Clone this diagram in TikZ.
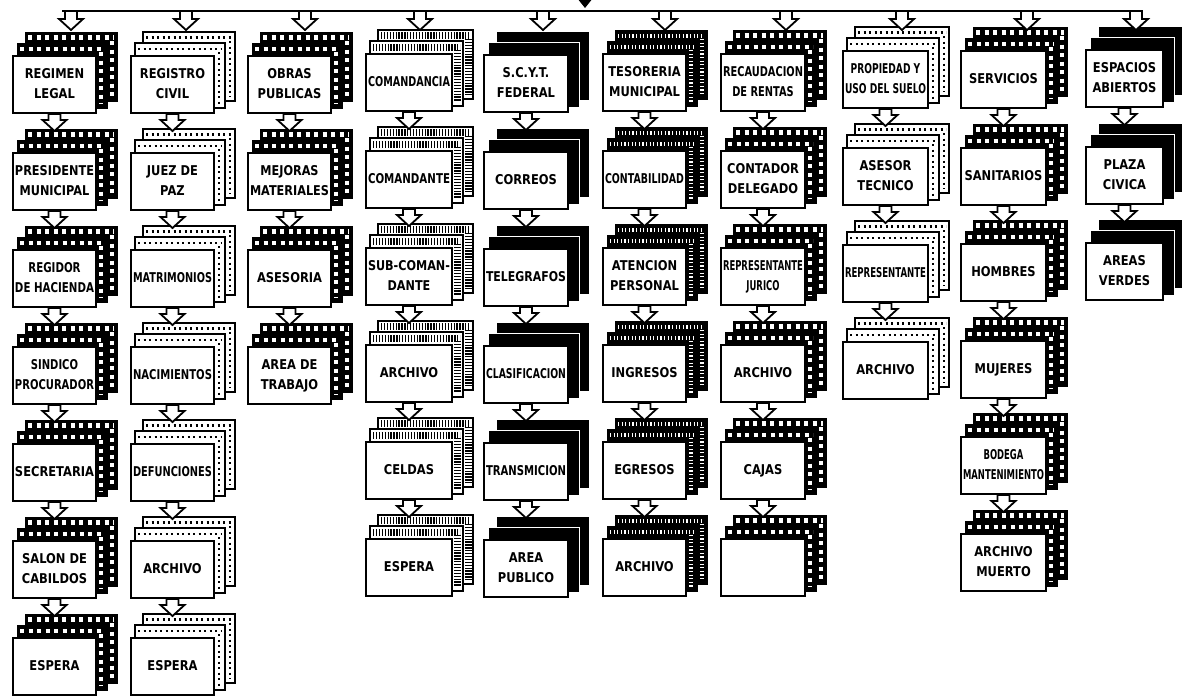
\documentclass[tikz,border=0pt]{standalone}
\usepackage{fontspec}
\usepackage{graphicx}
\newfontfamily\cardfont{DejaVu Sans}[FakeStretch=0.85]
\newsavebox\lblbox
\newcommand\lbl[2]{\sbox\lblbox{\def\arraystretch{1.25}\begin{tabular}{@{}c@{}}#2\end{tabular}}%
  \ifdim\wd\lblbox>#1pt\resizebox{#1pt}{\height}{\usebox\lblbox}\else\usebox\lblbox\fi}
\tikzset{
  card/.style={draw=black, fill=white, line width=2pt, anchor=north west,
    minimum height=57pt, inner sep=0pt,
    font=\cardfont\bfseries\fontsize{13.5}{16}\selectfont},
  film layer/.style={fill=black, draw=black, line width=1pt},
  film perf/.style={draw=white, line width=4.5pt, dash pattern=on 4pt off 4.5pt},
  dots layer/.style={fill=white, draw=black, line width=1.6pt},
  dots perf/.style={draw=black, line width=2.4pt, dash pattern=on 2pt off 3.5pt},
  comb layer/.style={fill=white, draw=black, line width=1.6pt},
  comb perf/.style={draw=black, line width=7pt, dash pattern=on 1.3pt off 1.6pt},
  solid layer/.style={fill=black, draw=white, line width=0.8pt},
  solid perf/.style={},
  hatch layer/.style={fill=black, draw=black, line width=1pt},
  hatch perf/.style={draw=white, line width=4pt, dash pattern=on 1.2pt off 2.4pt},
  blk/.style={draw=black, fill=white, line width=1.8pt, line join=miter},
  bar/.style={draw=black, line width=2.5pt},
}
\newcommand\mkcard[6]{%
  \begin{scope}[shift={(#3,#4)}]
    \path[#2 layer] (13,-23) rectangle (#5+22,46);
    \path[#2 perf] (16,-17.5) -- (#5+19,-17.5) (#5+17,-14) -- (#5+17,42);
    \path[#2 layer] (5,-12) rectangle (#5+12,53);
    \path[#2 perf] (8,-6) -- (#5+9,-6) (#5+6,-3) -- (#5+6,49);
  \end{scope}
  \node[card, minimum width=#5] (#1) at (#3,#4) {\lbl{\the\numexpr#5-4\relax}{#6}};
}
\newcommand\harrow[1]{\draw[blk] (#1) ++(-6,0) -- ++(12,0) -- ++(0,6) -- ++(6,0) -- ++(-12,11) -- ++(-12,-11) -- ++(6,0) -- cycle;}
\newcommand\tarrow[1]{\draw[blk] (#1) ++(-6,0) -- ++(12,0) -- ++(0,8) -- ++(6,0) -- ++(-12,11) -- ++(-12,-11) -- ++(6,0) -- cycle;}
\begin{document}
\begin{tikzpicture}[x=1pt,y=-1pt]
\fill[white] (0,0) rectangle (1182,697);
\useasboundingbox (0,0) rectangle (1182,697);
% column 1
\mkcard{c1r1}{film}{12}{55}{83}{REGIMEN\\LEGAL}
\mkcard{c1r2}{film}{12}{152}{83}{PRESIDENTE\\MUNICIPAL}
\mkcard{c1r3}{film}{12}{249}{83}{REGIDOR\\DE HACIENDA}
\mkcard{c1r4}{film}{12}{346}{83}{SINDICO\\PROCURADOR}
\mkcard{c1r5}{film}{12}{443}{83}{SECRETARIA}
\mkcard{c1r6}{film}{12}{540}{83}{SALON DE\\CABILDOS}
\mkcard{c1r7}{film}{12}{637}{83}{ESPERA}
% column 2
\mkcard{c2r1}{dots}{130}{55}{83}{REGISTRO\\CIVIL}
\mkcard{c2r2}{dots}{130}{152}{83}{JUEZ DE\\PAZ}
\mkcard{c2r3}{dots}{130}{249}{83}{MATRIMONIOS}
\mkcard{c2r4}{dots}{130}{346}{83}{NACIMIENTOS}
\mkcard{c2r5}{dots}{130}{443}{83}{DEFUNCIONES}
\mkcard{c2r6}{dots}{130}{540}{83}{ARCHIVO}
\mkcard{c2r7}{dots}{130}{637}{83}{ESPERA}
% column 3
\mkcard{c3r1}{film}{247}{55}{83}{OBRAS\\PUBLICAS}
\mkcard{c3r2}{film}{247}{152}{83}{MEJORAS\\MATERIALES}
\mkcard{c3r3}{film}{247}{249}{83}{ASESORIA}
\mkcard{c3r4}{film}{247}{346}{83}{AREA DE\\TRABAJO}
% column 4
\mkcard{c4r1}{comb}{365}{53}{86}{COMANDANCIA}
\mkcard{c4r2}{comb}{365}{150}{86}{COMANDANTE}
\mkcard{c4r3}{comb}{365}{247}{86}{SUB-COMAN-\\DANTE}
\mkcard{c4r4}{comb}{365}{344}{86}{ARCHIVO}
\mkcard{c4r5}{comb}{365}{441}{86}{CELDAS}
\mkcard{c4r6}{comb}{365}{538}{86}{ESPERA}
% column 5
\mkcard{c5r1}{solid}{483}{54}{84}{S.C.Y.T.\\FEDERAL}
\mkcard{c5r2}{solid}{483}{151}{84}{CORREOS}
\mkcard{c5r3}{solid}{483}{248}{84}{TELEGRAFOS}
\mkcard{c5r4}{solid}{483}{345}{84}{CLASIFICACION}
\mkcard{c5r5}{solid}{483}{442}{84}{TRANSMICION}
\mkcard{c5r6}{solid}{483}{539}{84}{AREA\\PUBLICO}
% column 6
\mkcard{c6r1}{hatch}{602}{53}{83}{TESORERIA\\MUNICIPAL}
\mkcard{c6r2}{hatch}{602}{150}{83}{CONTABILIDAD}
\mkcard{c6r3}{hatch}{602}{247}{83}{ATENCION\\PERSONAL}
\mkcard{c6r4}{hatch}{602}{344}{83}{INGRESOS}
\mkcard{c6r5}{hatch}{602}{441}{83}{EGRESOS}
\mkcard{c6r6}{hatch}{602}{538}{83}{ARCHIVO}
% column 7
\mkcard{c7r1}{film}{720}{53}{84}{RECAUDACION\\DE RENTAS}
\mkcard{c7r2}{film}{720}{150}{84}{CONTADOR\\DELEGADO}
\mkcard{c7r3}{film}{720}{247}{84}{REPRESENTANTE\\JURICO}
\mkcard{c7r4}{film}{720}{344}{84}{ARCHIVO}
\mkcard{c7r5}{film}{720}{441}{84}{CAJAS}
\mkcard{c7r6}{film}{720}{538}{84}{}
% column 8
\mkcard{c8r1}{dots}{842}{50}{85}{PROPIEDAD Y\\USO DEL SUELO}
\mkcard{c8r2}{dots}{842}{147}{85}{ASESOR\\TECNICO}
\mkcard{c8r3}{dots}{842}{244}{85}{REPRESENTANTE}
\mkcard{c8r4}{dots}{842}{341}{85}{ARCHIVO}
% column 9
\mkcard{c9r1}{film}{960}{50}{85}{SERVICIOS}
\mkcard{c9r2}{film}{960}{147}{85}{SANITARIOS}
\mkcard{c9r3}{film}{960}{243}{85}{HOMBRES}
\mkcard{c9r4}{film}{960}{340}{85}{MUJERES}
\mkcard{c9r5}{film}{960}{436}{85}{BODEGA\\MANTENIMIENTO}
\mkcard{c9r6}{film}{960}{533}{85}{ARCHIVO\\MUERTO}
% column 10
\mkcard{c10r1}{solid}{1085}{49}{77}{ESPACIOS\\ABIERTOS}
\mkcard{c10r2}{solid}{1085}{146}{77}{PLAZA\\CIVICA}
\mkcard{c10r3}{solid}{1085}{242}{77}{AREAS\\VERDES}
% arrows between rows
\foreach \c/\m in {1/6,2/6,3/3,4/5,5/5,6/5,7/5,8/3,9/5,10/2}{
  \foreach \r in {1,...,\m}{\harrow{c\c r\r.south}}
}
% top distribution bar
\coordinate (src) at (585,0);
\coordinate (barL) at (62,11);
\coordinate (barR) at (1142,11);
\foreach \x [count=\i] in {71,186,305,420,543,665,786,902,1027,1136}{
  \coordinate (h\i) at (\x,11);
}
\foreach \i in {1,...,10}{\tarrow{h\i}}
\draw[bar] (barL) -- (barR);
\fill[black] (src) ++(-8,-2) -- ++(16,0) -- ++(-8,10) -- cycle;
\end{tikzpicture}
\end{document}
